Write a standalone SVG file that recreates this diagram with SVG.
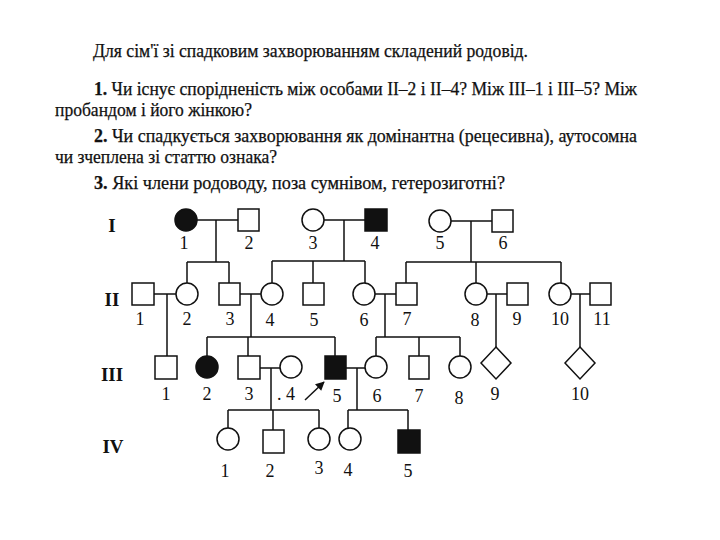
<svg xmlns="http://www.w3.org/2000/svg" width="720" height="540" viewBox="0 0 720 540">
<style>
.t{font-family:"Liberation Serif","DejaVu Serif",serif;font-size:18px;fill:#111;stroke:#111;stroke-width:0.25}
.b{font-weight:bold}
.g{font-family:"Liberation Serif","DejaVu Serif",serif;font-size:19px;font-weight:bold;fill:#111;text-anchor:middle}
.n{font-family:"Liberation Serif","DejaVu Serif",serif;font-size:18px;fill:#111;text-anchor:middle}
.s{fill:#fff;stroke:#111;stroke-width:1.5}
.f{fill:#111;stroke:#111;stroke-width:1.5}
.c{fill:none;stroke:#111;stroke-width:1.5}
</style>
<defs>
<marker id="ah" viewBox="0 0 10 10" refX="9" refY="5" markerWidth="10" markerHeight="9" orient="auto" markerUnits="userSpaceOnUse"><path d="M0,0 L10,5 L0,10 z" fill="#111"/></marker>
</defs>
<rect width="720" height="540" fill="#fff"/>
<g id="text">
<text class="t" x="93" y="57" textLength="435" lengthAdjust="spacingAndGlyphs">Для сім'ї зі спадковим захворюванням складений родовід.</text>
<text class="t" x="94" y="95" textLength="543" lengthAdjust="spacingAndGlyphs"><tspan class="b">1.</tspan> Чи існує спорідненість між особами II–2 і II–4? Між III–1 і III–5? Між</text>
<text class="t" x="55" y="116" textLength="197" lengthAdjust="spacingAndGlyphs">пробандом і його жінкою?</text>
<text class="t" x="94" y="142" textLength="543" lengthAdjust="spacingAndGlyphs"><tspan class="b">2.</tspan> Чи спадкується захворювання як домінантна (рецесивна), аутосомна</text>
<text class="t" x="55" y="163" textLength="222" lengthAdjust="spacingAndGlyphs">чи зчеплена зі статтю ознака?</text>
<text class="t" x="94" y="189" textLength="411" lengthAdjust="spacingAndGlyphs"><tspan class="b">3.</tspan> Які члени родоводу, поза сумнівом, гетерозиготні?</text>
</g>
<g id="generations">
<text class="g" x="112" y="232">I</text>
<text class="g" x="112" y="306">II</text>
<text class="g" x="112" y="381">III</text>
<text class="g" x="113" y="453">IV</text>
</g>
<g id="connectors">
<path class="c" d="M197,220 H238 M216,220 V262 M187,262 H229 M187,262 V283 M229,262 V283"/>
<path class="c" d="M324,220 H365 M344,220 V261 M272,261 H365 M272,261 V283 M313,261 V283 M365,261 V283"/>
<path class="c" d="M451,221 H492 M471,221 V262 M406,262 H561 M406,262 V283 M476,262 V283 M561,262 V283"/>
<path class="c" d="M154,294 H176 M167,294 V356"/>
<path class="c" d="M240,294 H261 M251,294 V337 M207,337 H335 M207,337 V356 M248,337 V356 M335,337 V356"/>
<path class="c" d="M375,294 H396 M385,294 V337 M376,337 H460 M376,337 V356 M419,337 V356 M460,337 V356"/>
<path class="c" d="M487,294 H507 M496,294 V347"/>
<path class="c" d="M571,294 H590 M580,294 V347"/>
<path class="c" d="M260,368 H280 M271,368 V410 M228,410 H319 M228,410 V428 M273,410 V430 M319,410 V428"/>
<path class="c" d="M346,368 H365 M357,368 V410 M348,410 H408 M348,410 V428 M408,410 V430"/>
<line x1="305" y1="400" x2="324" y2="382" stroke="#111" stroke-width="1.5" marker-end="url(#ah)"/>
</g>
<g id="I-1"><circle class="f" cx="186" cy="220" r="11"/><text class="n" x="184" y="249">1</text></g>
<g id="I-2"><rect class="s" x="238" y="209" width="21" height="22"/><text class="n" x="249" y="249">2</text></g>
<g id="I-3"><circle class="s" cx="313" cy="220" r="11"/><text class="n" x="313" y="249">3</text></g>
<g id="I-4"><rect class="f" x="365" y="209" width="22" height="22"/><text class="n" x="375" y="249">4</text></g>
<g id="I-5"><circle class="s" cx="440" cy="221" r="11"/><text class="n" x="440" y="249">5</text></g>
<g id="I-6"><rect class="s" x="492" y="210" width="21" height="22"/><text class="n" x="503" y="249">6</text></g>
<g id="II-1"><rect class="s" x="132" y="283" width="22" height="22"/><text class="n" x="140" y="325">1</text></g>
<g id="II-2"><circle class="s" cx="187" cy="294" r="11"/><text class="n" x="187" y="325">2</text></g>
<g id="II-3"><rect class="s" x="219" y="283" width="21" height="22"/><text class="n" x="230" y="325">3</text></g>
<g id="II-4"><circle class="s" cx="272" cy="294" r="11"/><text class="n" x="270" y="326">4</text></g>
<g id="II-5"><rect class="s" x="303" y="283" width="21" height="22"/><text class="n" x="314" y="326">5</text></g>
<g id="II-6"><circle class="s" cx="364" cy="294" r="11"/><text class="n" x="364" y="326">6</text></g>
<g id="II-7"><rect class="s" x="396" y="283" width="21" height="22"/><text class="n" x="407" y="325">7</text></g>
<g id="II-8"><circle class="s" cx="476" cy="294" r="11"/><text class="n" x="475" y="326">8</text></g>
<g id="II-9"><rect class="s" x="507" y="283" width="21" height="22"/><text class="n" x="517" y="325">9</text></g>
<g id="II-10"><circle class="s" cx="560" cy="294" r="11"/><text class="n" x="560" y="325">10</text></g>
<g id="II-11"><rect class="s" x="590" y="283" width="21" height="22"/><text class="n" x="602" y="325">11</text></g>
<g id="III-1"><rect class="s" x="155" y="356" width="22" height="23"/><text class="n" x="166" y="400">1</text></g>
<g id="III-2"><circle class="f" cx="207" cy="367" r="11"/><text class="n" x="207" y="400">2</text></g>
<g id="III-3"><rect class="s" x="238" y="356" width="22" height="23"/><text class="n" x="249" y="400">3</text></g>
<g id="III-4"><circle class="s" cx="291" cy="367" r="11"/><text class="n" x="286" y="400">. 4</text></g>
<g id="III-5"><rect class="f" x="325" y="356" width="21" height="23"/><text class="n" x="337" y="402">5</text></g>
<g id="III-6"><circle class="s" cx="376" cy="367" r="11"/><text class="n" x="377" y="402">6</text></g>
<g id="III-7"><rect class="s" x="409" y="356" width="20" height="23"/><text class="n" x="419" y="402">7</text></g>
<g id="III-8"><circle class="s" cx="460" cy="367" r="11"/><text class="n" x="459" y="404">8</text></g>
<g id="III-9"><path class="s" d="M496,347 L511,363 L496,379 L481,363 Z"/><text class="n" x="495" y="400">9</text></g>
<g id="III-10"><path class="s" d="M580,347 L595,363 L580,379 L565,363 Z"/><text class="n" x="580" y="400">10</text></g>
<g id="IV-1"><circle class="s" cx="228" cy="439" r="11"/><text class="n" x="225" y="477">1</text></g>
<g id="IV-2"><rect class="s" x="263" y="430" width="21" height="23"/><text class="n" x="270" y="477">2</text></g>
<g id="IV-3"><circle class="s" cx="319" cy="439" r="11"/><text class="n" x="319" y="474">3</text></g>
<g id="IV-4"><circle class="s" cx="350" cy="439" r="11"/><text class="n" x="348" y="476">4</text></g>
<g id="IV-5"><rect class="f" x="398" y="430" width="22" height="23"/><text class="n" x="408" y="477">5</text></g>
</svg>
